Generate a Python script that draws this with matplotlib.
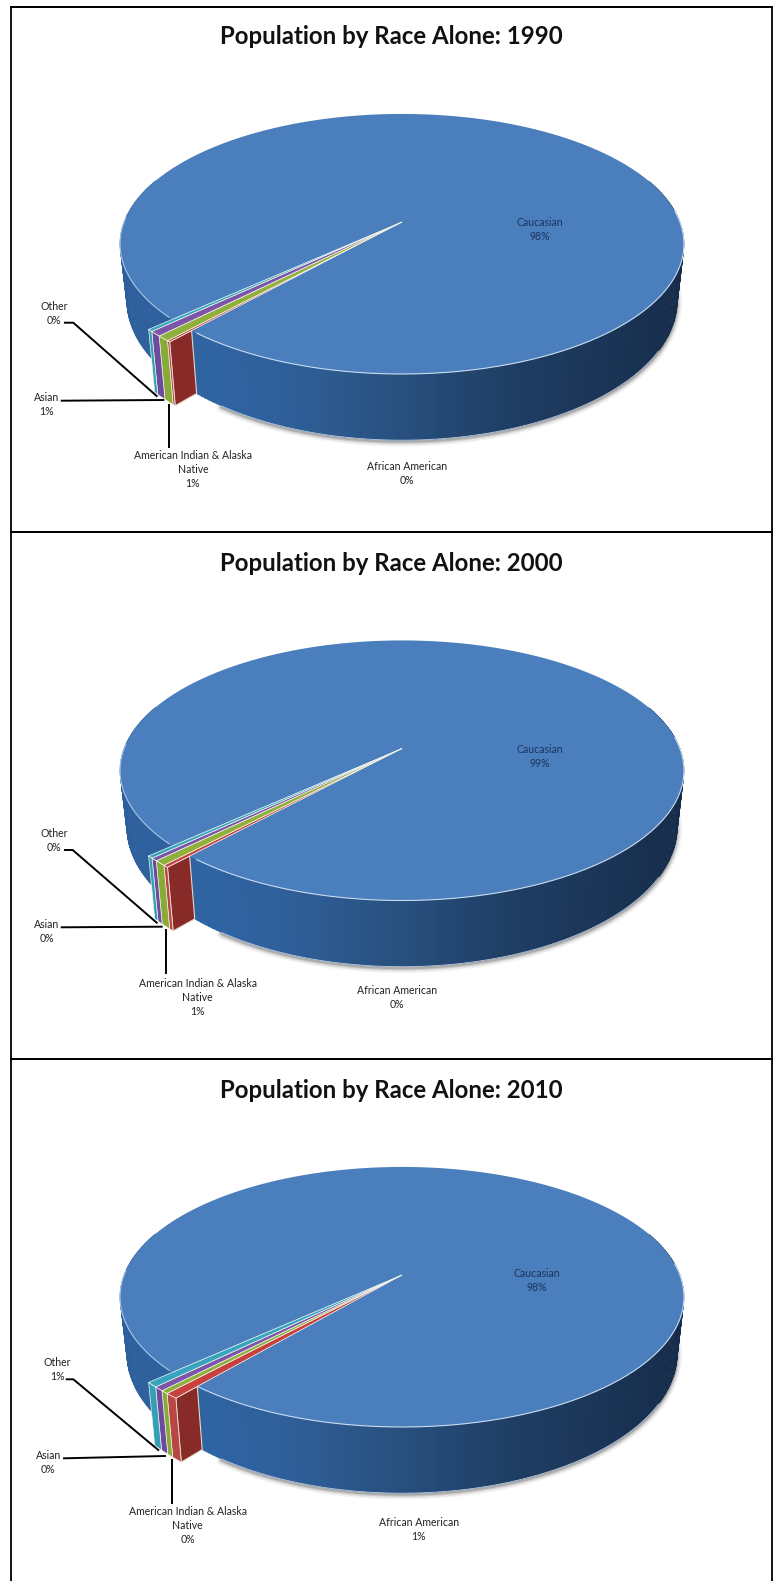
import numpy as np
import matplotlib
matplotlib.use('Agg')
import matplotlib.pyplot as plt
from matplotlib.collections import PolyCollection
from matplotlib.colors import LinearSegmentedColormap

plt.rcParams['font.family'] = ['Lato', 'DejaVu Sans']

# share of population per race, percent
years = [1990, 2000, 2010]
categories = ['Caucasian', 'African American', 'American Indian & Alaska\nNative', 'Asian', 'Other']
shares_1990 = [98.44, 0.15, 0.60, 0.56, 0.25]
shares_2000 = [98.59, 0.25, 0.56, 0.33, 0.27]
shares_2010 = [98.02, 0.60, 0.36, 0.47, 0.55]
all_shares = [shares_1990, shares_2000, shares_2010]

top_colors = ['#4a7ebc', '#c8403f', '#8fb13c', '#7d55a8', '#36a5bd']
wall_colors = ['#3a6fa8', '#bb4744', '#88ab35', '#6c4a9e', '#359fb6']
panel_wall = '#872a28'

# layout in pixels
W, H = 773, 1581
CX = 402
R = 277.9      # pie radius
K = 0.169      # perspective strength
Y_SCALE = 88.8
Y_APEX = 222
DEPTH = 55
BOTTOM_SHRINK = 0.976
R_OUT = 1.09   # small slices stick out past the big one
FIRST_ANGLE = 227

panel_top = [0, 526.5, 1053]
title_y = [37, 563.5, 1090.5]

# label centres, (x, y of first line), per year
label_pos = [
    [(540, 223), (407, 467.5), (193, 456), (46.7, 398), (54, 307.5)],
    [(540, 750), (397, 991.5), (197.7, 984), (47, 925.5), (54.3, 834.3)],
    [(537, 1274), (419, 1523), (187.7, 1512), (48.3, 1456), (57.7, 1363)],
]
# leader lines for the small slices
leaders = [
    [[(65, 322.7), (73.3, 322.7), (156.7, 396)], [(61.7, 400.7), (163.3, 400)], [(169.3, 405), (169.3, 446.7)]],
    [[(65, 850), (72.7, 850), (156.7, 922.7)], [(61.7, 927.3), (161.7, 926.7)], [(166, 930), (166, 973)]],
    [[(66.7, 1379.3), (73.3, 1379.3), (158.3, 1450)], [(64, 1458.3), (165, 1456)], [(171.7, 1460), (171.7, 1503)]],
]

wall_cmap = LinearSegmentedColormap.from_list('wall', [
    (0.0, '#2d5f9b'), (0.15, '#2f64a3'), (0.3, '#2f5f9a'), (0.5, '#28507f'),
    (0.7, '#1f3e64'), (0.88, '#1a3456'), (1.0, '#162c4a')])


def project(alpha, r=1.0):
    # alpha runs clockwise from the back of the pie, degrees
    a = np.radians(alpha)
    u, v = r * np.sin(a), -r * np.cos(a)
    s = 1 / (1 - K * v)
    return CX + R * u * s, (Y_SCALE * v + Y_APEX) * s


def project_bottom(alpha, r=1.0):
    a = np.radians(alpha)
    v = -r * np.cos(a)
    x, y = project(alpha, r)
    return CX + (x - CX) * BOTTOM_SHRINK, y + DEPTH / (1 - K * v)


def side_face(a0, a1, r, dy):
    al = np.linspace(a0, a1, 12)
    xt, yt = project(al, r)
    xb, yb = project_bottom(al, r)
    return np.r_[np.c_[xt, yt + dy], np.c_[xb, yb + dy][::-1]]


def top_wedge(a0, a1, r, dy):
    al = np.linspace(a0, a1, int(abs(a1 - a0)) * 2 + 12)
    x, y = project(al, r)
    return np.r_[[[CX, Y_APEX + dy]], np.c_[x, y + dy]]


def draw_pie(ax, shares, dy):
    sweep = np.array(shares) * 3.6
    edges = FIRST_ANGLE + np.r_[0, np.cumsum(sweep)]

    # soft shadow under the front right rim
    al = np.linspace(70, 215, 200)
    xb, yb = project_bottom(al)
    for lw, a in [(7, 0.05), (5, 0.08), (3, 0.14), (1.5, 0.2)]:
        ax.plot(xb, yb + dy + 1.5, color='#333333', lw=lw, alpha=a, solid_capstyle='round', zorder=1)

    # outer wall of the big slice, shaded across the width (front half only)
    al = np.arange(70, 290, 1.0)
    quads, shade = [], []
    for a in al:
        xt, yt = project(np.array([a, a + 1.2]))
        xb, yb = project_bottom(np.array([a, a + 1.2]))
        quads.append(np.c_[np.r_[xt, xb[::-1]], np.r_[yt, yb[::-1]] + dy])
        shade.append((xt[0] - 120) / 564)
    ax.add_collection(PolyCollection(quads, facecolors=wall_cmap(shade), edgecolors=wall_cmap(shade),
                                     linewidths=0.4, zorder=2))

    # rim of the bottom edge picks up a faint highlight
    al = np.linspace(120, 215, 120)
    xb, yb = project_bottom(al)
    ax.plot(xb, yb + dy, color='#b9c9dc', lw=0.6, zorder=2.5)

    # top of the big slice
    ax.fill(*top_wedge(edges[0], edges[1], 1.0, dy).T, color=top_colors[0], lw=0, zorder=3)
    al = np.linspace(85, 220, 200)
    xt, yt = project(al)
    ax.plot(xt, yt + dy, color='#c9dcef', lw=0.8, zorder=3.1)
    al = np.linspace(228, 272, 80)
    xt, yt = project(al)
    ax.plot(xt, yt + dy, color='#a9c6e4', lw=0.8, zorder=3.1)

    # the cut face showing beside the thin slices
    a_cut = edges[1]
    xo, yo = project(a_cut, R_OUT)
    xi, yi = project(a_cut, 1.0)
    xob, yob = project_bottom(a_cut, R_OUT)
    xib, yib = project_bottom(a_cut, 1.0)
    ax.fill([xo, xi, xib, xob], np.array([yo, yi, yib, yob]) + dy, facecolor=panel_wall,
            edgecolor='#e6d8c8', lw=0.8, zorder=4)

    # thin slices, top and outer face
    for i in range(1, len(shares)):
        a0, a1 = edges[i], edges[i + 1]
        ax.fill(*side_face(a0, a1, R_OUT, dy).T, facecolor=wall_colors[i], edgecolor='#f2f2ea',
                lw=0.5, zorder=4.2)
        ax.fill(*top_wedge(a0, a1, R_OUT, dy).T, facecolor=top_colors[i], edgecolor='#f6f6f0',
                lw=0.5, zorder=4.4)


fig = plt.figure(figsize=(W / 100, H / 100), dpi=100)
ax = fig.add_axes([0, 0, 1, 1])
ax.set_xlim(0, W)
ax.set_ylim(H, 0)
ax.axis('off')

# frame around each panel
for y0, y1 in [(7, 532), (532, 1059), (1059, 1590)]:
    ax.plot([11, 11, 772, 772], [y1, y0, y0, y1], color='black', lw=1.3, zorder=0.5)
    ax.plot([11, 772], [y0, y0], color='black', lw=1.3, zorder=0.5)

for p, year in enumerate(years):
    shares = all_shares[p]
    dy = panel_top[p]
    draw_pie(ax, shares, dy)
    ax.text(391, title_y[p], f'Population by Race Alone: {year}', ha='center', va='center',
            fontsize=17.3, fontweight='bold', color='#111111', zorder=6)

    for i, name in enumerate(categories):
        x, y = label_pos[p][i]
        color = '#1c3560' if i == 0 else '#222222'
        ax.text(x, y - 6, f'{name}\n{shares[i]:.0f}%', ha='center', va='top', fontsize=7.6,
                color=color, linespacing=1.32, zorder=6)

    for pts in leaders[p]:
        xs, ys = zip(*pts)
        ax.plot(xs, ys, color='black', lw=1.4, zorder=5)

fig.savefig('out.png', dpi=100)
